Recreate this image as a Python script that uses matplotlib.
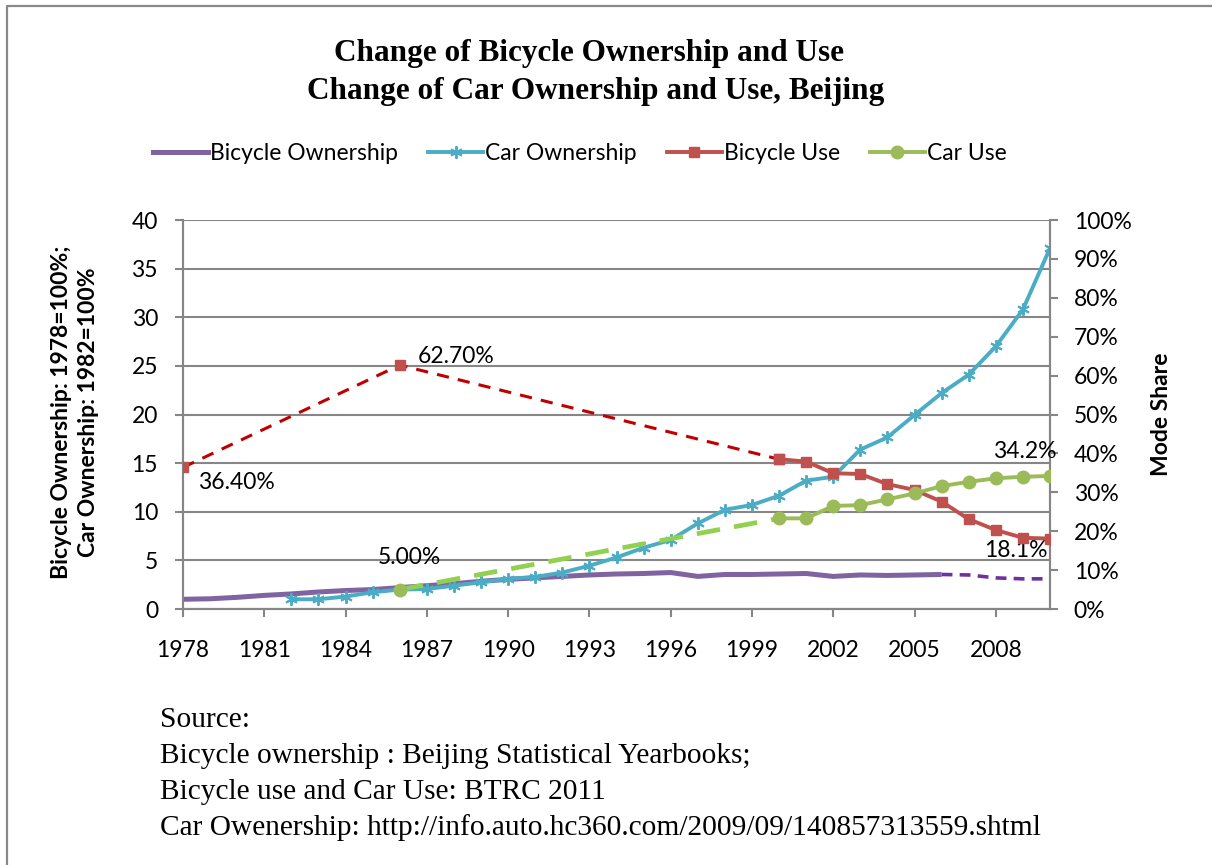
import numpy as np
import matplotlib
matplotlib.use('Agg')
import matplotlib.pyplot as plt
from matplotlib.lines import Line2D
from matplotlib.ticker import MultipleLocator, PercentFormatter

plt.rcParams['font.family'] = ['Lato', 'DejaVu Sans']

# ownership index (left axis)
bike_own_years = np.arange(1978, 2007)
bike_own = [1.0, 1.05, 1.2, 1.4, 1.55, 1.75, 1.9, 2.0, 2.2, 2.4, 2.6, 2.85, 3.05, 3.2,
            3.35, 3.5, 3.6, 3.65, 3.75, 3.35, 3.55, 3.55, 3.6, 3.65, 3.35, 3.5, 3.45,
            3.5, 3.55]
bike_own_est_years = [2006, 2007, 2008, 2009, 2010]
bike_own_est = [3.55, 3.5, 3.2, 3.1, 3.1]
car_own_years = np.arange(1982, 2011)
car_own = [1.0, 1.0, 1.28, 1.72, 2.0, 2.05, 2.4, 2.75, 3.1, 3.3, 3.75, 4.45, 5.3, 6.3,
           7.1, 8.8, 10.2, 10.7, 11.65, 13.2, 13.6, 16.4, 17.65, 19.95, 22.2, 24.1,
           27.0, 30.8, 37.1]

# mode share (right axis)
bike_use_gap_years = [1978, 1986, 2000]
bike_use_gap = [0.364, 0.627, 0.385]
bike_use_years = np.arange(2000, 2011)
bike_use = [0.385, 0.379, 0.349, 0.347, 0.321, 0.306, 0.276, 0.231, 0.203, 0.183, 0.181]
car_use_gap_years = [1986, 2000]
car_use_gap = [0.05, 0.233]
car_use_years = np.arange(2000, 2011)
car_use = [0.233, 0.233, 0.265, 0.267, 0.282, 0.297, 0.316, 0.327, 0.336, 0.340, 0.342]

purple, blue, red, green = '#8064A2', '#4BACC6', '#C0504D', '#9BBB59'
grid_c = '#868686'
fs = 16.5

fig = plt.figure(figsize=(12.12, 8.65), dpi=100)
ax = fig.add_axes([183 / 1212, 1 - 609 / 865, (1050 - 183) / 1212, (609 - 220) / 865])
ax2 = ax.twinx()

ax.plot(bike_own_years, bike_own, color=purple, lw=3.6, solid_capstyle='butt', zorder=3)
ax.plot(bike_own_est_years, bike_own_est, color='#7030A0', lw=2.6, ls=(0, (3, 2)), zorder=3)
ax.plot(car_own_years, car_own, color=blue, lw=2.8, marker=(6, 2, 0), ms=9, mew=1.4,
        zorder=4)

ax2.plot(bike_use_gap_years, bike_use_gap, color='#C00000', lw=2.2, ls=(0, (4, 3)),
         zorder=3)
ax2.plot(bike_use_gap_years, bike_use_gap, ls='none', marker='s', ms=7, color=red, zorder=4)
ax2.plot(bike_use_years, bike_use, color=red, lw=2.8, marker='s', ms=7, zorder=4)
ax2.plot(car_use_gap_years, car_use_gap, color='#92D050', lw=3.4, ls=(0, (5, 3)), zorder=3)
ax2.plot(car_use_gap_years[:1], car_use_gap[:1], ls='none', marker='o', ms=9, color=green,
         zorder=4)
ax2.plot(car_use_years, car_use, color=green, lw=2.8, marker='o', ms=9, zorder=5)

ax.set_xlim(1978, 2010)
ax.set_ylim(0, 40)
ax2.set_ylim(0, 1)
ax.set_xticks(np.arange(1978, 2010, 3))
ax.yaxis.set_major_locator(MultipleLocator(5))
ax2.yaxis.set_major_locator(MultipleLocator(0.1))
ax2.yaxis.set_major_formatter(PercentFormatter(1.0, decimals=0))
ax.grid(axis='y', color=grid_c, lw=1.5)
ax.set_axisbelow(True)

for a in (ax, ax2):
    for s in a.spines.values():
        s.set_color(grid_c)
        s.set_linewidth(1.5)
    a.spines['top'].set_visible(False)
ax.tick_params(axis='both', colors=grid_c, labelcolor='black', labelsize=fs, width=1.5,
               length=6)
ax.tick_params(axis='y', pad=12)
ax.tick_params(axis='x', pad=16)
ax2.tick_params(axis='y', colors=grid_c, labelcolor='black', labelsize=fs, width=1.5,
                length=6, pad=11)

lab = dict(fontsize=fs, textcoords='offset pixels')
ax2.annotate('36.40%', (bike_use_gap_years[0], bike_use_gap[0]), xytext=(15, -15),
             ha='left', va='center', **lab)
ax2.annotate('62.70%', (bike_use_gap_years[1], bike_use_gap[1]), xytext=(18, 9),
             ha='left', va='center', **lab)
ax2.annotate('5.00%', (car_use_gap_years[0], car_use_gap[0]), xytext=(-22, 32),
             ha='left', va='center', **lab)
ax2.annotate('34.2%', (car_use_years[-1], car_use[-1]), xytext=(7, 24),
             ha='right', va='center', **lab)
ax2.annotate('18.1%', (bike_use_years[-1], bike_use[-1]), xytext=(-2, -12),
             ha='right', va='center', **lab)

fig.text(75 / 1212, 1 - 412 / 865, 'Bicycle Ownership: 1978=100%;\nCar Ownership: 1982=100%',
         rotation=90, ha='center', va='center', ma='center', fontsize=fs,
         fontweight='bold', linespacing=1.35)
fig.text(1162 / 1212, 1 - 414 / 865, 'Mode Share', rotation=90, ha='center', va='center',
         fontsize=fs, fontweight='bold')

fig.text(589 / 1212, 1 - 53 / 865, 'Change of Bicycle Ownership and Use', ha='center',
         va='center', family='Liberation Serif', fontweight='bold', fontsize=22.5)
fig.text(596 / 1212, 1 - 91 / 865, 'Change of Car Ownership and Use, Beijing', ha='center',
         va='center', family='Liberation Serif', fontweight='bold', fontsize=22.5)

handles = [
    Line2D([], [], color=purple, lw=3.6),
    Line2D([], [], color=blue, lw=2.8, marker=(6, 2, 0), ms=9, mew=1.4),
    Line2D([], [], color=red, lw=2.8, marker='s', ms=7),
    Line2D([], [], color=green, lw=2.8, marker='o', ms=9),
]
fig.legend(handles, ['Bicycle Ownership', 'Car Ownership', 'Bicycle Use', 'Car Use'],
           loc='center', bbox_to_anchor=(580 / 1212, 1 - 154 / 865), ncol=4, frameon=False,
           fontsize=fs, handlelength=2.4, handletextpad=0.1, columnspacing=1.3)

source = ['Source:', 'Bicycle ownership : Beijing Statistical Yearbooks;',
          'Bicycle use and Car Use: BTRC 2011',
          'Car Owenership: http://info.auto.hc360.com/2009/09/140857313559.shtml']
for i, line in enumerate(source):
    fig.text(160 / 1212, 1 - (720 + 36 * i) / 865, line, ha='left', va='center',
             family='Liberation Serif', fontsize=21.2)

fig.add_artist(Line2D([7 / 1212, 7 / 1212, 1], [0, 1 - 6 / 865, 1 - 6 / 865],
                      transform=fig.transFigure, color='#898989', lw=1.6))

fig.savefig('out.png', dpi=100)
